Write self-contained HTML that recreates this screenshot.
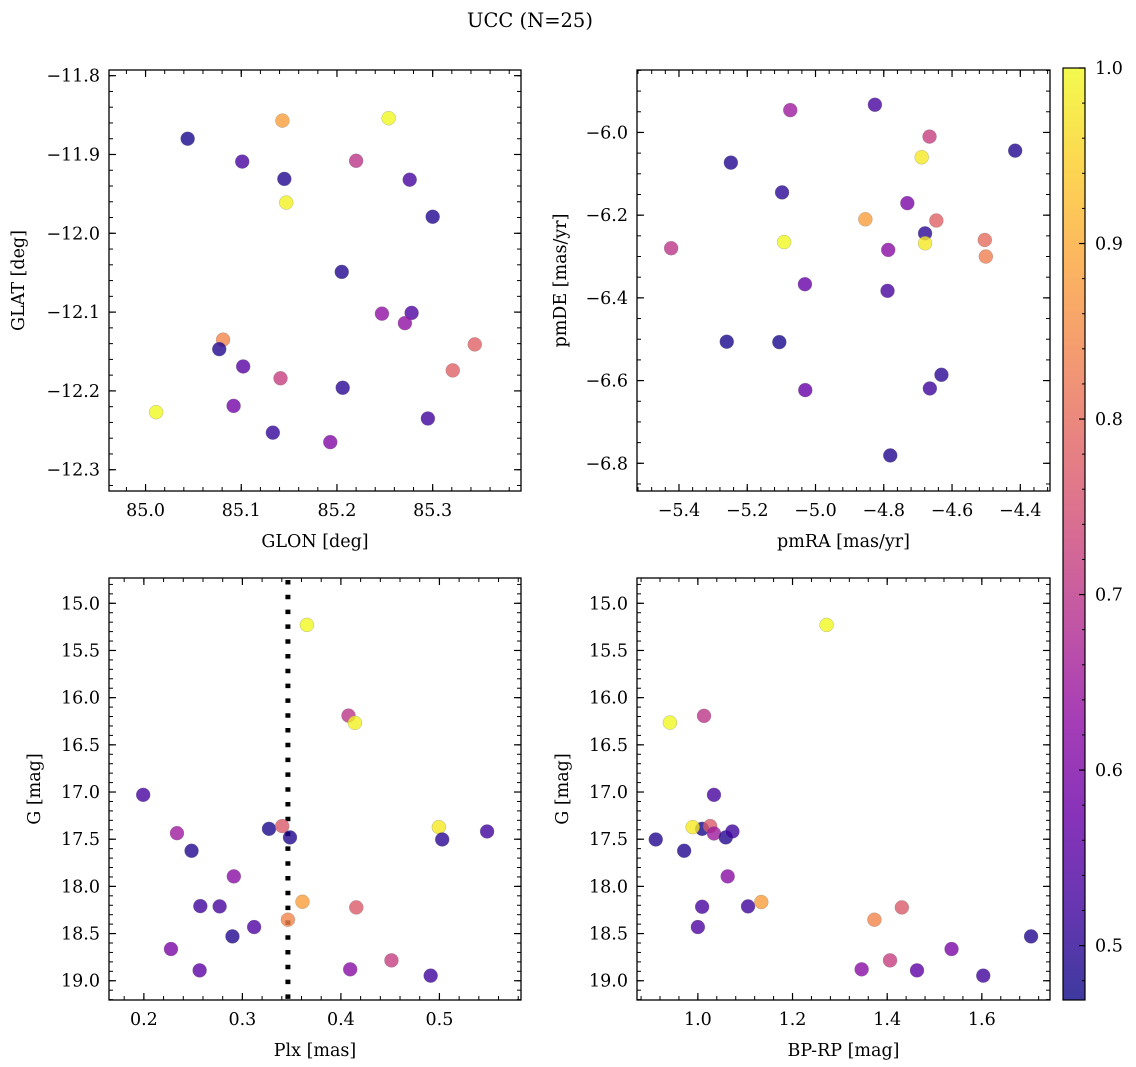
<!DOCTYPE html>
<html><head><meta charset="utf-8"><style>
html,body{margin:0;padding:0;background:#fff;}
svg{display:block;font-family:"DejaVu Serif","Liberation Serif",serif;}
</style></head><body>
<svg id="fig" width="1136" height="1067" viewBox="0 0 1136 1067" xmlns="http://www.w3.org/2000/svg">
<text x="530" y="27" font-size="19.5" text-anchor="middle">UCC (N=25)</text>
</svg>
<script>
// Panel 1: GLON vs GLAT
const glonX=[85.044,85.143,85.254,85.101,85.220,85.145,85.276,85.147,85.300,85.205,85.247,85.278,85.271,85.081,85.077,85.344,85.102,85.321,85.141,85.206,85.011,85.092,85.295,85.133,85.193];
const glatY=[-11.880,-11.857,-11.854,-11.909,-11.908,-11.931,-11.932,-11.961,-11.979,-12.049,-12.102,-12.101,-12.114,-12.135,-12.147,-12.141,-12.169,-12.174,-12.184,-12.196,-12.227,-12.219,-12.235,-12.253,-12.265];
const p1C=[0.48,0.88,1.0,0.53,0.70,0.49,0.53,0.99,0.49,0.49,0.63,0.54,0.63,0.84,0.49,0.78,0.55,0.78,0.72,0.50,1.0,0.59,0.52,0.51,0.61];
// Panel 2: pmRA vs pmDE
const pmraX=[-5.074,-4.826,-4.666,-4.689,-4.415,-5.248,-5.098,-4.731,-4.854,-4.646,-4.679,-4.679,-5.092,-5.423,-4.787,-4.504,-4.501,-5.031,-4.789,-5.260,-5.106,-4.631,-4.665,-5.030,-4.781];
const pmdeY=[-5.946,-5.933,-6.010,-6.060,-6.044,-6.073,-6.145,-6.171,-6.210,-6.213,-6.244,-6.268,-6.265,-6.280,-6.284,-6.260,-6.300,-6.367,-6.383,-6.506,-6.507,-6.586,-6.619,-6.623,-6.781];
const p2C=[0.65,0.53,0.72,0.98,0.49,0.49,0.50,0.60,0.88,0.78,0.50,0.98,1.0,0.70,0.62,0.80,0.83,0.57,0.53,0.48,0.48,0.50,0.52,0.57,0.49];
// Panel 3: Plx vs G
const plxX=[0.3655,0.4077,0.4142,0.1993,0.2336,0.2484,0.3270,0.3404,0.3483,0.4994,0.5028,0.5484,0.2913,0.2573,0.2769,0.3610,0.4156,0.3462,0.3119,0.2899,0.2275,0.2566,0.4094,0.4513,0.4911];
const gY3=[15.229,16.190,16.267,17.030,17.436,17.623,17.390,17.361,17.481,17.372,17.503,17.418,17.894,18.209,18.212,18.163,18.223,18.353,18.431,18.530,18.664,18.890,18.879,18.784,18.946];
const p3C=[1.0,0.70,0.99,0.53,0.65,0.49,0.48,0.77,0.49,0.98,0.50,0.52,0.62,0.52,0.53,0.88,0.77,0.84,0.54,0.49,0.60,0.56,0.62,0.72,0.52];
const plxLine=[0.3462];
// Panel 4: BP-RP vs G
const bprpX=[1.272,0.941,1.013,1.034,0.911,0.971,1.009,0.989,1.026,1.034,1.059,1.073,1.063,1.009,1.106,1.134,1.000,1.373,1.431,1.704,1.536,1.346,1.406,1.463,1.603];
const gY4=[15.229,16.264,16.193,17.030,17.503,17.623,17.390,17.372,17.361,17.439,17.481,17.418,17.894,18.216,18.212,18.166,18.431,18.353,18.223,18.530,18.664,18.879,18.784,18.890,18.946];
const p4C=[1.0,1.0,0.70,0.53,0.49,0.49,0.48,0.98,0.77,0.65,0.49,0.52,0.62,0.53,0.52,0.88,0.54,0.84,0.77,0.49,0.60,0.62,0.72,0.56,0.52];
// Tick labels
const p1XTicks=[85.0,85.1,85.2,85.3];
const p1YTicks=[-11.8,-11.9,-12.0,-12.1,-12.2,-12.3];
const p2XTicks=[-5.4,-5.2,-5.0,-4.8,-4.6,-4.4];
const p2YTicks=[-6.0,-6.2,-6.4,-6.6,-6.8];
const p3XTicks=[0.2,0.3,0.4,0.5];
const gTicks=[15.0,15.5,16.0,16.5,17.0,17.5,18.0,18.5,19.0];
const p4XTicks=[1.0,1.2,1.4,1.6];
const cbTicks=[0.5,0.6,0.7,0.8,0.9,1.0];
const cMin=0.469,cMax=1.0;

const FS=17.5;
const NS="http://www.w3.org/2000/svg";
const svg=document.getElementById('fig');
function el(t,a,p){const e=document.createElementNS(NS,t);for(const k in a)e.setAttribute(k,a[k]);(p||svg).appendChild(e);return e;}
const plasma=[[13,8,135],[65,4,157],[106,0,168],[143,13,164],[177,42,144],[204,71,120],[225,100,98],[242,132,75],[252,166,54],[252,206,37],[240,249,33]];
function cmap(v){let t=(v-cMin)/(cMax-cMin);t=Math.max(0,Math.min(1,t))*10;const i=Math.min(9,Math.floor(t)),f=t-i;const a=plasma[i],b=plasma[i+1];
 return 'rgb('+a.map((x,k)=>Math.round(x+(b[k]-x)*f)).join(',')+')';}
function fmt(v){return (v<0?'\u2212':'')+Math.abs(v).toFixed(1);}

function panel(o){
 const g=el('g',{});
 
 
 const sx=v=>o.L+(v-o.x0)/(o.x1-o.x0)*(o.R-o.L);
 const sy=v=>o.T+(o.y1-v)/(o.y1-o.y0)*(o.B-o.T);
 const mk=(a0,a1,step,fn)=>{const s=Math.ceil(a0/step-1e-6);for(let k=s;k*step<=a1+1e-9;k++)fn(k*step);};
 mk(o.x0,o.x1,o.xm,v=>{const x=sx(v);el('line',{x1:x,x2:x,y1:o.B,y2:o.B-4,stroke:'#000','stroke-width':1},g);el('line',{x1:x,x2:x,y1:o.T,y2:o.T+4,stroke:'#000','stroke-width':1},g);});
 mk(o.y0,o.y1,o.ym,v=>{const y=sy(v);el('line',{x1:o.L,x2:o.L+4,y1:y,y2:y,stroke:'#000','stroke-width':1},g);el('line',{x1:o.R,x2:o.R-4,y1:y,y2:y,stroke:'#000','stroke-width':1},g);});
 o.xt.forEach(v=>{const x=sx(v);el('line',{x1:x,x2:x,y1:o.B,y2:o.B-7,stroke:'#000','stroke-width':1.2},g);el('line',{x1:x,x2:x,y1:o.T,y2:o.T+7,stroke:'#000','stroke-width':1.2},g);
  const t=el('text',{x:x,y:o.B+25,'font-size':FS,'text-anchor':'middle'},g);t.textContent=fmt(v);
  
  });
 o.yt.forEach(v=>{const y=sy(v);el('line',{x1:o.L,x2:o.L+7,y1:y,y2:y,stroke:'#000','stroke-width':1.2},g);el('line',{x1:o.R,x2:o.R-7,y1:y,y2:y,stroke:'#000','stroke-width':1.2},g);
  const t=el('text',{x:o.L-9,y:y+6,'font-size':FS,'text-anchor':'end'},g);t.textContent=o.neg?fmt(v).replace('\u2212',''):fmt(v);
  
  });
 if(o.vline){o.vline.forEach(v=>{const l=el('line',{x1:sx(v),x2:sx(v),y1:o.T+2,y2:o.B,stroke:'#000','stroke-width':5,'stroke-dasharray':'4.5 10.3'},g);
  
  });}
 o.xs.forEach((v,i)=>{const c=el('circle',{cx:sx(v),cy:sy(o.ys[i]),r:7,fill:cmap(o.cs[i]),'fill-opacity':0.8,stroke:'#777','stroke-opacity':0.5,'stroke-width':0.5},g);
  
  });
 el('rect',{x:o.L,y:o.T,width:o.R-o.L,height:o.B-o.T,fill:'none',stroke:'#000','stroke-width':1.3},g);
 const xl=el('text',{x:(o.L+o.R)/2,y:o.B+56,'font-size':FS,'text-anchor':'middle'},g);xl.textContent=o.xlab;
 
 
 const yx=o.ylx,yy=(o.T+o.B)/2;
 const yl=el('text',{x:yx,y:yy,'font-size':FS,'text-anchor':'middle',transform:'rotate(-90 '+yx+' '+yy+')'},g);yl.textContent=o.ylab;
 
 
}
panel({name:'glon-glat-panel',L:109,R:521,T:70,B:491,x0:84.9618,x1:85.3923,y0:-12.327,y1:-11.7928,xm:0.02,ym:0.02,xt:p1XTicks,yt:p1YTicks,xs:glonX,ys:glatY,cs:p1C,xlab:'GLON [deg]',ylab:'GLAT [deg]',ylx:24});
panel({name:'pm-panel',L:637,R:1050,T:70,B:491,x0:-5.523,x1:-4.313,y0:-6.867,y1:-5.849,xm:0.04,ym:0.05,xt:p2XTicks,yt:p2YTicks,xs:pmraX,ys:pmdeY,cs:p2C,xlab:'pmRA [mas/yr]',ylab:'pmDE [mas/yr]',ylx:566});
panel({name:'plx-g-panel',neg:true,L:109,R:521,T:578,B:1000,x0:0.1646,x1:0.5828,y0:-19.204,y1:-14.732,xm:0.02,ym:0.1,xt:p3XTicks,yt:gTicks.map(v=>-v),xs:plxX,ys:gY3.map(v=>-v),cs:p3C,xlab:'Plx [mas]',ylab:'G [mag]',ylx:40,vline:plxLine});
panel({name:'cmd-panel',neg:true,L:637,R:1050,T:578,B:1000,x0:0.8714,x1:1.744,y0:-19.204,y1:-14.732,xm:0.04,ym:0.1,xt:p4XTicks,yt:gTicks.map(v=>-v),xs:bprpX,ys:gY4.map(v=>-v),cs:p4C,xlab:'BP-RP [mag]',ylab:'G [mag]',ylx:568});

// colorbar
const cb=el('g',{});


const CL=1063,CR=1085,CT=68,CB=1000;
const defs=el('defs',{},cb);
const lg=el('linearGradient',{id:'cbg',x1:0,y1:1,x2:0,y2:0},defs);
for(let i=0;i<=20;i++){const v=cMin+(cMax-cMin)*i/20;el('stop',{offset:(i/20),'stop-color':cmap(v),'stop-opacity':0.8},lg);}
el('rect',{x:CL,y:CT,width:CR-CL,height:CB-CT,fill:'url(#cbg)'},cb);
const cy=v=>CB-(v-cMin)/(cMax-cMin)*(CB-CT);
for(let k=24;k<=50;k++){const v=k*0.02;if(v<cMin)continue;const y=cy(v);el('line',{x1:CR,x2:CR-3,y1:y,y2:y,stroke:'#000','stroke-width':1},cb);}
cbTicks.forEach(v=>{const y=cy(v);el('line',{x1:CR,x2:CR-6,y1:y,y2:y,stroke:'#000','stroke-width':1.2},cb);
 const t=el('text',{x:CR+10,y:y+6,'font-size':FS},cb);t.textContent=v.toFixed(1);
 
 });
el('rect',{x:CL,y:CT,width:CR-CL,height:CB-CT,fill:'none',stroke:'#000','stroke-width':1.2},cb);
</script>
</body></html>
